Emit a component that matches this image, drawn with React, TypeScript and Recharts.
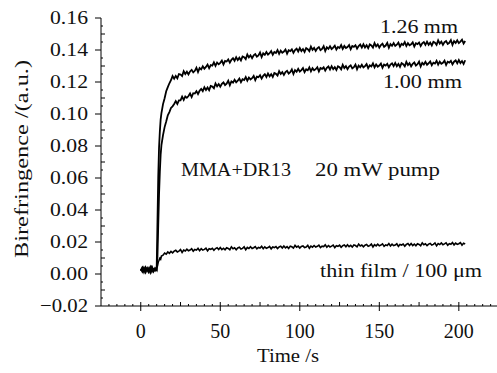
import React from 'react';
import { LineChart, Line, XAxis, YAxis } from 'recharts';

// time axis (s)
const times = [
  0, 1, 2, 3, 4, 5, 6, 7, 8, 9, 10, 10.5, 11, 11.5, 12, 12.5, 13, 14, 15, 16, 17, 18, 19,
  20, 21, 22, 23, 24, 25, 26, 27, 28, 29, 30, 31, 32, 33, 34, 35, 36, 37, 38, 39,
  40, 41, 42, 43, 44, 45, 46, 47, 48, 49, 50, 51, 52, 53, 54, 55, 56, 57, 58, 59,
  60, 61, 62, 63, 64, 65, 66, 67, 68, 69, 70, 71, 72, 73, 74, 75, 76, 77, 78, 79,
  80, 81, 82, 83, 84, 85, 86, 87, 88, 89, 90, 91, 92, 93, 94, 95, 96, 97, 98, 99,
  100, 101, 102, 103, 104, 105, 106, 107, 108, 109, 110, 111, 112, 113, 114, 115, 116, 117, 118, 119,
  120, 121, 122, 123, 124, 125, 126, 127, 128, 129, 130, 131, 132, 133, 134, 135, 136, 137, 138, 139,
  140, 141, 142, 143, 144, 145, 146, 147, 148, 149, 150, 151, 152, 153, 154, 155, 156, 157, 158, 159,
  160, 161, 162, 163, 164, 165, 166, 167, 168, 169, 170, 171, 172, 173, 174, 175, 176, 177, 178, 179,
  180, 181, 182, 183, 184, 185, 186, 187, 188, 189, 190, 191, 192, 193, 194, 195, 196, 197, 198, 199,
  200, 201, 202, 203, 204,
];

// birefringence readings, in units of 1e-4
const mm126 = [
  25, 38, 12, 41, 18, 35, 9, 42, 21, 33, 28, 320, 610, 790, 890, 965, 1005, 1062, 1098, 1142, 1168, 1192, 1211,
  1237, 1221, 1238, 1223, 1250, 1247, 1237, 1267, 1250, 1264, 1247, 1266, 1276, 1260, 1270, 1289, 1262, 1287, 1279, 1298,
  1283, 1294, 1309, 1287, 1306, 1302, 1323, 1301, 1322, 1311, 1320, 1334, 1310, 1332, 1328, 1341, 1321, 1339, 1349, 1333,
  1355, 1337, 1352, 1335, 1360, 1355, 1343, 1372, 1354, 1367, 1349, 1367, 1375, 1358, 1366, 1384, 1356, 1379, 1370, 1387,
  1371, 1380, 1393, 1370, 1387, 1381, 1400, 1376, 1396, 1383, 1390, 1403, 1377, 1398, 1393, 1404, 1383, 1400, 1409, 1391,
  1412, 1393, 1406, 1388, 1412, 1405, 1393, 1421, 1401, 1413, 1394, 1410, 1418, 1399, 1407, 1424, 1394, 1417, 1407, 1423,
  1406, 1415, 1427, 1403, 1419, 1413, 1431, 1407, 1425, 1412, 1419, 1431, 1405, 1425, 1420, 1430, 1409, 1425, 1434, 1415,
  1436, 1416, 1430, 1411, 1435, 1428, 1415, 1443, 1423, 1435, 1415, 1431, 1439, 1420, 1428, 1444, 1414, 1437, 1426, 1443,
  1425, 1433, 1446, 1421, 1438, 1431, 1449, 1425, 1443, 1430, 1436, 1448, 1422, 1442, 1437, 1447, 1425, 1442, 1450, 1432,
  1452, 1433, 1446, 1428, 1451, 1445, 1432, 1460, 1440, 1452, 1432, 1449, 1456, 1438, 1445, 1462, 1432, 1455, 1444, 1461,
  1443, 1452, 1464, 1440, 1456,
];

const mm100 = [
  31, 14, 40, 22, 37, 11, 29, 44, 16, 36, 24, 110, 310, 500, 640, 745, 805, 868, 918, 953, 992, 1012, 1038,
  1048, 1063, 1081, 1063, 1085, 1085, 1108, 1088, 1110, 1101, 1112, 1128, 1106, 1130, 1128, 1143, 1125, 1145, 1157, 1143,
  1167, 1150, 1166, 1149, 1175, 1171, 1161, 1191, 1173, 1187, 1170, 1188, 1197, 1181, 1190, 1208, 1180, 1204, 1196, 1214,
  1198, 1208, 1222, 1199, 1217, 1212, 1231, 1208, 1228, 1216, 1224, 1238, 1212, 1234, 1230, 1242, 1221, 1239, 1249, 1231,
  1253, 1235, 1249, 1232, 1256, 1251, 1240, 1268, 1250, 1262, 1244, 1262, 1270, 1253, 1261, 1279, 1250, 1274, 1264, 1282,
  1265, 1274, 1287, 1262, 1279, 1273, 1292, 1267, 1286, 1273, 1280, 1292, 1266, 1287, 1282, 1292, 1271, 1288, 1297, 1278,
  1299, 1280, 1293, 1275, 1298, 1292, 1279, 1307, 1287, 1299, 1280, 1296, 1304, 1285, 1293, 1309, 1280, 1302, 1292, 1308,
  1291, 1299, 1312, 1287, 1304, 1297, 1316, 1291, 1310, 1296, 1303, 1315, 1289, 1309, 1303, 1314, 1292, 1309, 1317, 1299,
  1319, 1299, 1313, 1294, 1318, 1311, 1298, 1326, 1306, 1318, 1298, 1314, 1322, 1303, 1311, 1327, 1297, 1320, 1309, 1326,
  1308, 1317, 1329, 1305, 1321, 1315, 1333, 1309, 1327, 1314, 1320, 1333, 1306, 1327, 1321, 1332, 1310, 1327, 1335, 1317,
  1337, 1318, 1331, 1313, 1336,
];

const thinFilm = [
  19, 42, 27, 8, 36, 24, 45, 13, 32, 20, 38, 50, 75, 86, 98, 92, 112, 118, 131, 124, 138, 129, 141,
  132, 143, 148, 138, 143, 153, 135, 150, 144, 155, 145, 150, 158, 143, 153, 149, 161, 146, 158, 149,
  154, 161, 145, 158, 154, 161, 148, 159, 164, 153, 165, 153, 161, 151, 164, 160, 152, 170, 158, 164,
  152, 163, 167, 156, 160, 170, 152, 166, 159, 170, 159, 164, 171, 157, 166, 162, 173, 158, 170, 161,
  165, 172, 157, 169, 165, 171, 159, 169, 174, 162, 175, 163, 171, 160, 174, 170, 162, 179, 168, 174,
  162, 172, 176, 165, 169, 179, 161, 175, 168, 178, 168, 173, 180, 165, 174, 171, 182, 167, 178, 169,
  174, 181, 165, 177, 173, 180, 167, 177, 182, 170, 183, 171, 179, 168, 181, 178, 170, 187, 175, 181,
  170, 180, 184, 173, 177, 187, 169, 183, 176, 186, 176, 181, 188, 173, 182, 178, 190, 175, 186, 177,
  181, 189, 173, 185, 181, 187, 174, 185, 190, 178, 190, 178, 187, 176, 189, 185, 177, 194, 183, 189,
  177, 187, 191, 181, 185, 194, 176, 190, 184, 194, 183, 188, 195, 180, 190, 186, 197, 182, 193, 185,
  189, 196, 180, 192, 188,
];

// tick marks: labelled majors plus minor marks
const xTicks = [
  -20, -15, -10, -5, 0, 5, 10, 15, 20, 25, 30, 35, 40, 45, 50, 55, 60, 65, 70, 75, 80, 85,
  90, 95, 100, 105, 110, 115, 120, 125, 130, 135, 140, 145, 150, 155, 160, 165, 170, 175,
  180, 185, 190, 195, 200, 205, 210, 215, 220,
];
const xLabels = [0, 50, 100, 150, 200];

const yTicks = [
  -0.02, -0.015, -0.01, -0.005, 0, 0.005, 0.01, 0.015, 0.02, 0.025, 0.03, 0.035, 0.04,
  0.045, 0.05, 0.055, 0.06, 0.065, 0.07, 0.075, 0.08, 0.085, 0.09, 0.095, 0.1, 0.105,
  0.11, 0.115, 0.12, 0.125, 0.13, 0.135, 0.14, 0.145, 0.15, 0.155, 0.16,
];
const yLabels = ['−0.02', '0.00', '0.02', '0.04', '0.06', '0.08', '0.10', '0.12', '0.14', '0.16'];

const data = times.map((t, i) => ({
  t,
  mm126: mm126[i] / 10000,
  mm100: mm100[i] / 10000,
  thin: thinFilm[i] / 10000,
}));

const FONT = 'Liberation Serif, Times New Roman, Times, Tinos, serif';

const XTick = (props: any) => {
  const { x, y, payload } = props;
  const v = payload.value;
  const major = xLabels.includes(v);
  const mid = v % 25 === 0;
  return (
    <g>
      {major ? (
        <line x1={x} y1={y - 4} x2={x} y2={y + 5} stroke="#000" />
      ) : (
        <line x1={x} y1={y} x2={x} y2={y - (mid ? 4 : 2)} stroke="#000" />
      )}
      {major && (
        <text x={x} y={y + 32} textAnchor="middle" style={{ fontFamily: FONT, fontSize: 20 }} fill="#111">
          {v}
        </text>
      )}
    </g>
  );
};

const YTick = (props: any) => {
  const { x, y, payload } = props;
  const k = Math.round(payload.value * 1000);
  const major = k % 20 === 0;
  const mid = k % 10 === 0;
  const idx = (k + 20) / 20;
  return (
    <g>
      {major ? (
        <line x1={x - 6} y1={y} x2={x} y2={y} stroke="#000" />
      ) : (
        <line x1={x} y1={y} x2={x + (mid ? 4 : 2)} y2={y} stroke="#000" />
      )}
      {major && (
        <text
          x={x - 13}
          y={y + 6}
          textAnchor="end"
          textLength={yLabels[idx].length > 4 ? 48 : 38}
          lengthAdjust="spacingAndGlyphs"
          style={{ fontFamily: FONT, fontSize: 19 }}
          fill="#111"
        >
          {yLabels[idx]}
        </text>
      )}
    </g>
  );
};

export default function App() {
  const txt = { style: { fontFamily: FONT, fontSize: 19 }, fill: '#111' };
  return (
    <div style={{ position: 'absolute', left: 0, top: 0, width: 497, height: 373, background: '#fff' }}>
      <LineChart width={497} height={373} data={data} margin={{ top: 18, right: 0, left: 0, bottom: 0 }}>
        <XAxis
          dataKey="t"
          type="number"
          domain={[-25, 224]}
          ticks={xTicks}
          interval={0}
          tick={<XTick />}
          tickLine={false}
          tickSize={0}
          tickMargin={0}
          height={67}
          axisLine={{ stroke: '#000' }}
        />
        <YAxis
          type="number"
          domain={[-0.02, 0.16]}
          ticks={yTicks}
          interval={0}
          tick={<YTick />}
          tickLine={false}
          tickSize={0}
          tickMargin={0}
          width={101}
          axisLine={{ stroke: '#000' }}
        />
        <Line dataKey="thin" type="linear" stroke="#000" strokeWidth={1.6} dot={false} isAnimationActive={false} />
        <Line dataKey="mm100" type="linear" stroke="#000" strokeWidth={1.8} dot={false} isAnimationActive={false} />
        <Line dataKey="mm126" type="linear" stroke="#000" strokeWidth={1.8} dot={false} isAnimationActive={false} />
      </LineChart>
      <svg width={497} height={373} style={{ position: 'absolute', left: 0, top: 0, pointerEvents: 'none' }}>
        <text x={380} y={33} textLength={78} lengthAdjust="spacingAndGlyphs" {...txt}>1.26 mm</text>
        <text x={383} y={88} textLength={79} lengthAdjust="spacingAndGlyphs" {...txt}>1.00 mm</text>
        <text x={181} y={176} textLength={110} lengthAdjust="spacingAndGlyphs" {...txt}>MMA+DR13</text>
        <text x={315} y={176} textLength={125} lengthAdjust="spacingAndGlyphs" {...txt}>20 mW pump</text>
        <text x={320} y={277} textLength={162} lengthAdjust="spacingAndGlyphs" {...txt}>thin film / 100 μm</text>
        <text x={288} y={362} textAnchor="middle" textLength={62} lengthAdjust="spacingAndGlyphs" {...txt}>Time /s</text>
        <text
          transform="translate(28,159) rotate(-90)"
          textAnchor="middle"
          textLength={198}
          lengthAdjust="spacingAndGlyphs"
          {...txt}
        >
          Birefringence /(a.u.)
        </text>
      </svg>
    </div>
  );
}
